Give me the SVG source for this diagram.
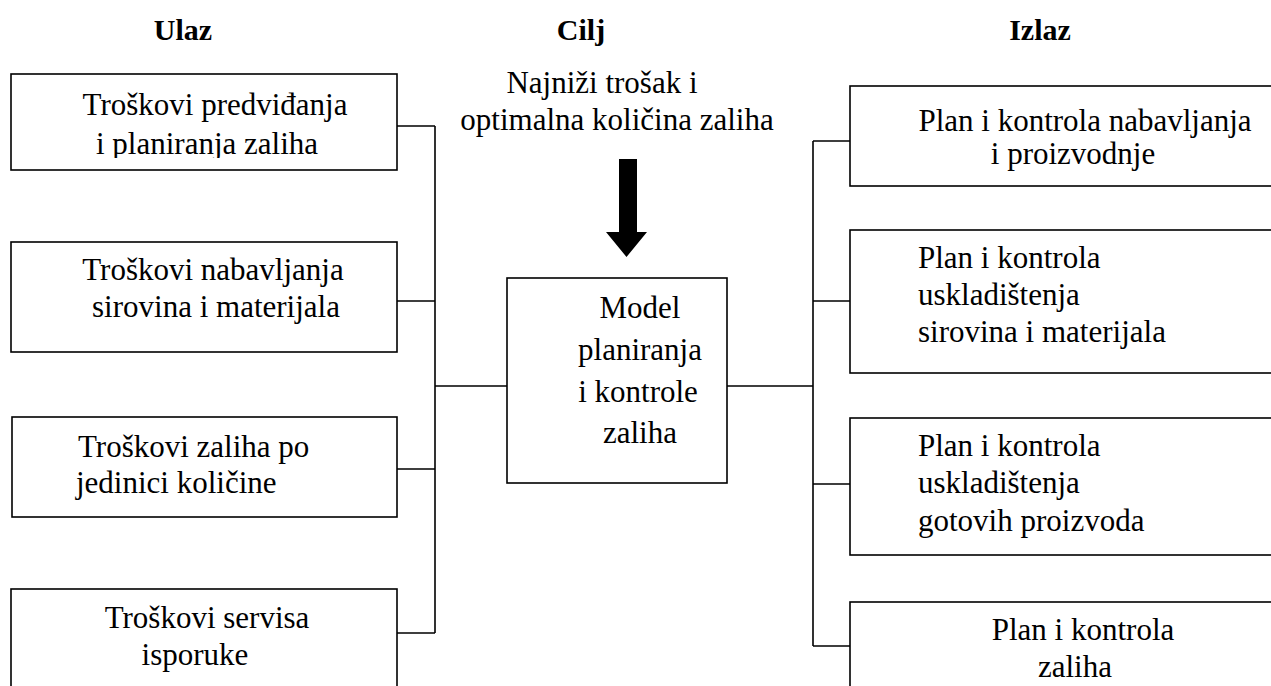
<svg xmlns="http://www.w3.org/2000/svg" width="1271" height="686" viewBox="0 0 1271 686">
<style>
  .box { fill: #ffffff; stroke: #000000; stroke-width: 1.6; }
  .ln { fill: none; stroke: #000000; stroke-width: 1.6; }
  .t { font-family: "Liberation Serif", "Times New Roman", serif; font-size: 31px; fill: #000000; }
  .h { font-family: "Liberation Serif", "Times New Roman", serif; font-size: 30px; font-weight: bold; fill: #000000; text-anchor: middle; }
  .c { text-anchor: middle; }
</style>
<defs>
  <clipPath id="clip1"><rect x="11" y="74" width="386" height="84"/></clipPath>
</defs>
<rect x="0" y="0" width="1271" height="686" fill="#ffffff"/>

<g id="headers">
  <text class="h" x="183" y="40">Ulaz</text>
  <text class="h" x="581" y="40">Cilj</text>
  <text class="h" x="1040" y="40">Izlaz</text>
</g>

<g id="connectors">
  <path class="ln" d="M397 126 H435 M397 301 H435 M397 469 H435 M397 633 H435 M435 126 V633 M435 386 H507"/>
  <path class="ln" d="M727 386 H813 M813 141 V646 M813 141 H850 M813 301 H850 M813 484 H850 M813 646 H850"/>
  <polygon points="619,159 637,159 637,232 647,232 626.5,257 606,232 619,232" fill="#000000"/>
</g>

<g id="goal">
  <text class="t c" x="602" y="93">Najniži trošak i</text>
  <text class="t c" x="617" y="130">optimalna količina zaliha</text>
</g>

<g id="in1">
  <rect class="box" x="11" y="74" width="386" height="96"/>
  <g clip-path="url(#clip1)">
    <text class="t c" x="215" y="115">Troškovi predviđanja</text>
    <text class="t c" x="207" y="154">i planiranja zaliha</text>
  </g>
</g>
<g id="in2">
  <rect class="box" x="11" y="242" width="386" height="110"/>
  <text class="t c" x="213" y="280">Troškovi nabavljanja</text>
  <text class="t c" x="216" y="317">sirovina  i materijala</text>
</g>
<g id="in3">
  <rect class="box" x="12" y="417" width="385" height="100"/>
  <text class="t" x="78" y="457">Troškovi zaliha po</text>
  <text class="t" x="76" y="493">jedinici količine</text>
</g>
<g id="in4">
  <rect class="box" x="11" y="589" width="386" height="120"/>
  <text class="t c" x="207" y="628">Troškovi servisa</text>
  <text class="t c" x="195" y="665">isporuke</text>
</g>

<g id="model">
  <rect class="box" x="507" y="278" width="220" height="205"/>
  <text class="t c" x="640" y="318">Model</text>
  <text class="t c" x="640" y="360">planiranja</text>
  <text class="t c" x="638" y="402">i kontrole</text>
  <text class="t c" x="640" y="443">zaliha</text>
</g>

<g id="out1">
  <rect class="box" x="850" y="86" width="440" height="100"/>
  <text class="t c" x="1085" y="131">Plan i kontrola nabavljanja</text>
  <text class="t c" x="1073" y="164">i proizvodnje</text>
</g>
<g id="out2">
  <rect class="box" x="850" y="230" width="440" height="143"/>
  <text class="t" x="918" y="268">Plan i kontrola</text>
  <text class="t" x="918" y="305">uskladištenja</text>
  <text class="t" x="918" y="342">sirovina i materijala</text>
</g>
<g id="out3">
  <rect class="box" x="850" y="418" width="440" height="137"/>
  <text class="t" x="918" y="456">Plan i kontrola</text>
  <text class="t" x="918" y="493">uskladištenja</text>
  <text class="t" x="918" y="531">gotovih proizvoda</text>
</g>
<g id="out4">
  <rect class="box" x="850" y="602" width="440" height="120"/>
  <text class="t c" x="1083" y="640">Plan i kontrola</text>
  <text class="t c" x="1075" y="677">zaliha</text>
</g>
</svg>
